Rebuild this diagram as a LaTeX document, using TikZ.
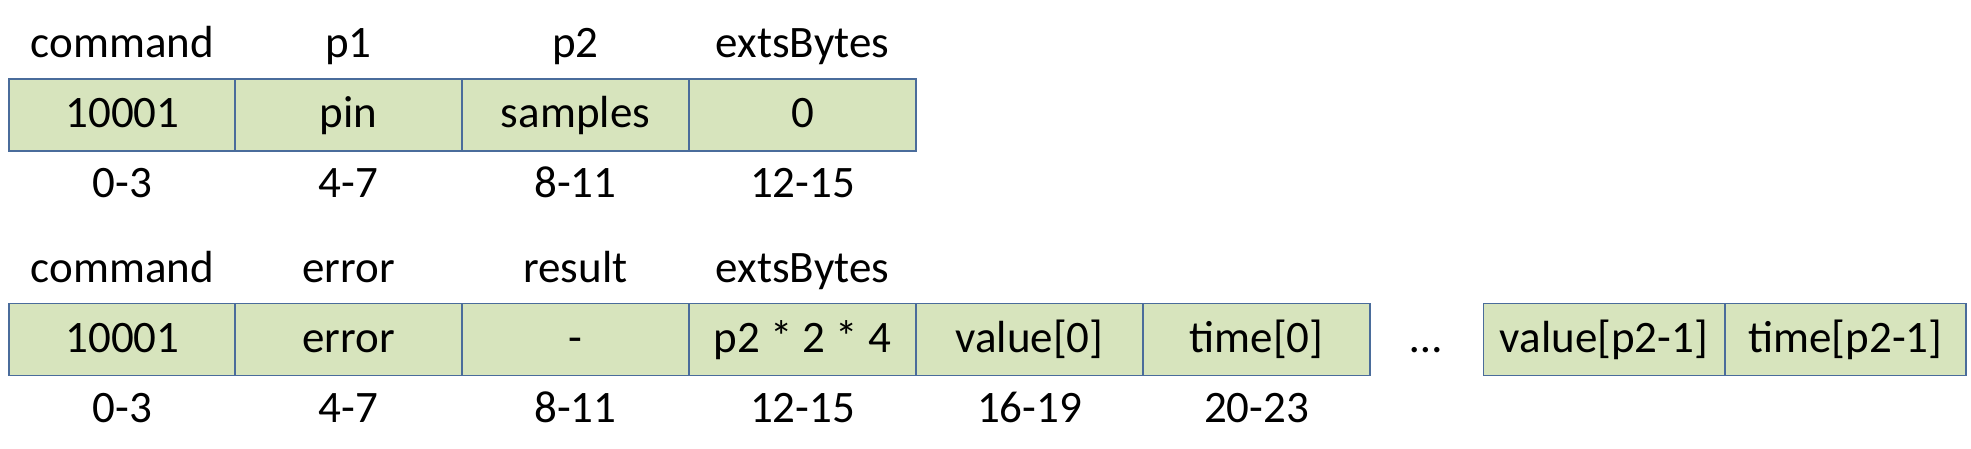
\documentclass[tikz,border=0pt]{standalone}
\usepackage{fontspec}
\setmainfont{Carlito}
\definecolor{cellfill}{HTML}{D7E4BD}
\definecolor{cellline}{HTML}{4A6C9B}
\begin{document}
\begin{tikzpicture}[x=0.5pt,y=-0.5pt,
  cell/.style={draw=cellline, line width=0.9pt, fill=cellfill, rectangle,
    minimum width=113.25pt, minimum height=36pt, inner sep=0pt,
    text height=16pt, text depth=3pt, font=\fontsize{22.5pt}{27pt}\selectfont},
  widecell/.style={cell, minimum width=120.5pt},
  lbl/.style={anchor=base, inner sep=0pt, font=\fontsize{22.5pt}{27pt}\selectfont}]
\useasboundingbox (0,0) rectangle (1971,449);
% ---- request ----
\node[cell] (a1) at (122.5,115) {10001};
\node[cell] (a2) at (348.5,115) {pin};
\node[cell] (a3) at (575.5,115) {samples};
\node[cell] (a4) at (802.5,115) {0};
\node[lbl] (ha1) at (122.5,58) {command};
\node[lbl] (ha2) at (348.5,58) {p1};
\node[lbl] (ha3) at (575.5,58) {p2};
\node[lbl] (ha4) at (802.5,58) {extsBytes};
\node[lbl] (ia1) at (122.5,198) {0-3};
\node[lbl] (ia2) at (348.5,198) {4-7};
\node[lbl] (ia3) at (575.5,198) {8-11};
\node[lbl] (ia4) at (802.5,198) {12-15};
% ---- response ----
\node[cell] (b1) at (122.5,339.5) {10001};
\node[cell] (b2) at (348.5,339.5) {error};
\node[cell] (b3) at (575.5,339.5) {-};
\node[cell] (b4) at (802.5,339.5) {p2 * 2 * 4};
\node[cell] (b5) at (1029.5,339.5) {value[0]};
\node[cell] (b6) at (1256.5,339.5) {time[0]};
\node[lbl] (dots) at (1426,352) {…};
\node[widecell] (b7) at (1604,339.5) {value[p2-1]};
\node[widecell] (b8) at (1845.5,339.5) {time[p2-1]};
\node[lbl] (hb1) at (122.5,282) {command};
\node[lbl] (hb2) at (348.5,282) {error};
\node[lbl] (hb3) at (575.5,282) {result};
\node[lbl] (hb4) at (802.5,282) {extsBytes};
\node[lbl] (ib1) at (122.5,422) {0-3};
\node[lbl] (ib2) at (348.5,422) {4-7};
\node[lbl] (ib3) at (575.5,422) {8-11};
\node[lbl] (ib4) at (802.5,422) {12-15};
\node[lbl] (ib5) at (1029.5,422) {16-19};
\node[lbl] (ib6) at (1256.5,422) {20-23};
\end{tikzpicture}
\end{document}
